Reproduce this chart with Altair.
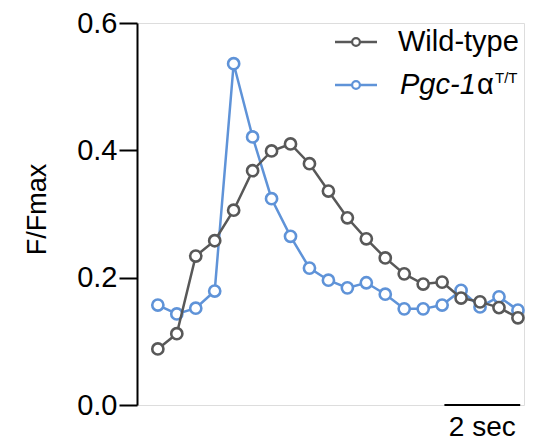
import altair as alt
import pandas as pd

# time in seconds (one sample every 0.5 s)
time_s = [0.0, 0.5, 1.0, 1.5, 2.0, 2.5, 3.0, 3.5, 4.0, 4.5,
          5.0, 5.5, 6.0, 6.5, 7.0, 7.5, 8.0, 8.5, 9.0, 9.5]
wild_type = [0.088, 0.112, 0.234, 0.258, 0.306, 0.368, 0.399, 0.410, 0.379, 0.336,
             0.294, 0.261, 0.231, 0.206, 0.190, 0.193, 0.168, 0.162, 0.153, 0.137]
pgc1a_tt = [0.157, 0.143, 0.152, 0.179, 0.536, 0.421, 0.324, 0.265, 0.215, 0.196,
            0.184, 0.192, 0.174, 0.151, 0.151, 0.157, 0.180, 0.154, 0.170, 0.149]
series_names = ["Wild-type", "Pgc-1αT/T"]
series_colors = ["#585858", "#5f93d8"]
y_ticks = [0.0, 0.2, 0.4, 0.6]
scale_bar_start = [7.56]
scale_bar_end = [9.56]
scale_bar_label = ["2 sec"]

FONT = "Liberation Sans"

df = pd.DataFrame({
    "t": time_s * 2,
    "v": wild_type + pgc1a_tt,
    "series": [series_names[0]] * len(time_s) + [series_names[1]] * len(time_s),
})

x_scale = alt.Scale(domain=[-0.55, 9.66], nice=False, zero=False)
y_scale = alt.Scale(domain=[0, 0.6], nice=False)

y_axis = alt.Axis(
    values=y_ticks, format=".1f", title="F/Fmax", grid=False,
    domainColor="black", domainWidth=2, tickColor="black", tickWidth=2,
    tickSize=18, labelPadding=2, labelFont=FONT, labelFontSize=29,
    labelColor="black", titleFont=FONT, titleFontSize=27,
    titleFontWeight="normal", titleColor="black",
    titleX=-100, titleY=186, titleAlign="center", titleBaseline="middle",
)

base = alt.Chart(df)

def series_layers(name, color):
    src = base.transform_filter(alt.datum.series == name)
    y_enc = alt.Y("v:Q", scale=y_scale, axis=y_axis)
    x_enc = alt.X("t:Q", scale=x_scale, axis=None)
    line = src.mark_line(color=color, strokeWidth=2.5).encode(x=x_enc, y=y_enc)
    pts = src.mark_point(shape="circle", filled=True, fill="white", stroke=color,
                         strokeWidth=2.6, size=125, opacity=1).encode(x=x_enc, y=y_enc)
    return [line, pts]

layers = series_layers(series_names[1], series_colors[1]) + \
         series_layers(series_names[0], series_colors[0])

bar_df = pd.DataFrame({"x1": scale_bar_start, "x2": scale_bar_end,
                       "xm": [(a + b) / 2 for a, b in zip(scale_bar_start, scale_bar_end)],
                       "y": [0.0], "label": scale_bar_label})
bar = alt.Chart(bar_df).mark_rule(color="black", strokeWidth=2).encode(
    x=alt.X("x1:Q", scale=x_scale, axis=None), x2="x2:Q",
    y=alt.Y("y:Q", scale=y_scale, axis=y_axis))
bar_text = alt.Chart(bar_df).mark_text(font=FONT, fontSize=28, color="black",
                                       baseline="alphabetic", align="center", dy=31).encode(
    x=alt.X("xm:Q", scale=x_scale, axis=None),
    y=alt.Y("y:Q", scale=y_scale, axis=y_axis), text="label:N")

# manual legend
leg_df = pd.DataFrame({"name": ["Wild-type"], "p": ["Pgc-1"], "a": ["α"], "s": ["T/T"]})
leg = alt.Chart(leg_df)
leg_layers = []
for yy, color in [(19, series_colors[0]), (62, series_colors[1])]:
    leg_layers.append(leg.mark_rule(color=color, strokeWidth=2.5).encode(
        x=alt.value(198), x2=alt.value(240), y=alt.value(yy)))
    leg_layers.append(leg.mark_point(shape="circle", filled=True, fill="white", stroke=color,
                                     strokeWidth=2.2, size=60, opacity=1).encode(
        x=alt.value(219), y=alt.value(yy)))
leg_layers.append(leg.mark_text(font=FONT, fontSize=29, color="black", align="left",
                                baseline="alphabetic").encode(
    x=alt.value(261), y=alt.value(28), text="name:N"))
leg_layers.append(leg.mark_text(font=FONT, fontSize=29, fontStyle="italic", color="black",
                                align="left", baseline="alphabetic").encode(
    x=alt.value(263), y=alt.value(71), text="p:N"))
leg_layers.append(leg.mark_text(font=FONT, fontSize=29, color="black", align="left",
                                baseline="alphabetic").encode(
    x=alt.value(340), y=alt.value(71), text="a:N"))
leg_layers.append(leg.mark_text(font=FONT, fontSize=15, color="black", align="left",
                                baseline="alphabetic").encode(
    x=alt.value(358), y=alt.value(60), text="s:N"))

chart = alt.layer(*layers, bar, bar_text, *leg_layers).properties(
    width=387, height=382,
    autosize=alt.AutoSizeParams(type="none"),
    padding={"left": 129, "top": 15, "right": 8, "bottom": 37},
).configure_view(strokeWidth=0, stroke="transparent").configure(background="white")

chart.save("out.html", embed_options={"renderer": "svg", "actions": False})
